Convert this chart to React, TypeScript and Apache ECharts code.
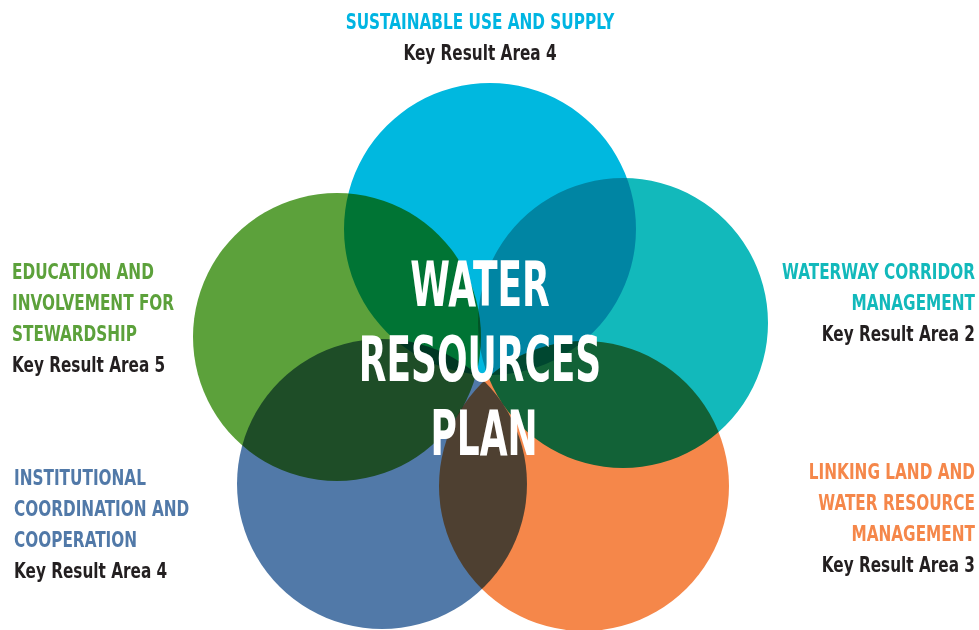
import React, { useEffect, useRef } from "react";
import * as echarts from "echarts";

const FONT = '"Liberation Sans Narrow", "DejaVu Sans Condensed", "Arial Narrow", sans-serif';

// circles: name, colour, center, radius
const circleNames = ["top", "left", "right", "bottomLeft", "bottomRight"];
const circleColors = ["#00B8DF", "#5CA13B", "#12B9BB", "#5179A8", "#F5874A"];
const circleCx = [490, 337, 623, 382, 584];
const circleCy = [229, 337, 323, 484, 486];
const circleR = [146, 144, 145, 145, 145];

// labels
const titleLines = [
  ["SUSTAINABLE USE AND SUPPLY"],
  ["EDUCATION AND", "INVOLVEMENT FOR", "STEWARDSHIP"],
  ["WATERWAY CORRIDOR", "MANAGEMENT"],
  ["INSTITUTIONAL", "COORDINATION AND", "COOPERATION"],
  ["LINKING LAND AND", "WATER RESOURCE", "MANAGEMENT"],
];
const areaLabels = [
  "Key Result Area 4",
  "Key Result Area 5",
  "Key Result Area 2",
  "Key Result Area 4",
  "Key Result Area 3",
];
const titleColors = ["#00B5E2", "#5CA13B", "#12B9BB", "#5179A8", "#F5874A"];
const centerLines = ["WATER", "RESOURCES", "PLAN"];

// label layout
const labelX = [480, 12, 975, 14, 975];
const labelTopY = [22, 272, 272, 478, 472];
const labelAlign = ["center", "left", "right", "left", "right"];

function txt(t: string, x: number, y: number, fill: string, size: number, align: string, sx: number, z: number) {
  return {
    type: "text",
    z,
    x,
    y,
    scaleX: sx,
    style: {
      text: t,
      x: 0,
      y: 0,
      fill,
      font: `bold ${size}px ${FONT}`,
      textAlign: align,
      textVerticalAlign: "middle",
    },
  };
}

export default function App() {
  const ref = useRef<HTMLDivElement>(null);
  useEffect(() => {
    if (!ref.current) return;
    const chart = echarts.init(ref.current, undefined, { renderer: "svg" });
    const elements: any[] = [];
    circleNames.forEach((n, i) => {
      elements.push({
        type: "circle",
        id: "c_" + n,
        shape: { cx: circleCx[i], cy: circleCy[i], r: circleR[i] },
        style: { fill: circleColors[i], blend: "multiply" },
        z: 1,
      });
    });
    const LH = 31;
    const SX = 0.81;
    titleLines.forEach((lines, i) => {
      lines.forEach((t, j) => {
        elements.push(txt(t, labelX[i], labelTopY[i] + j * LH, titleColors[i], 21, labelAlign[i], SX, 5));
      });
      elements.push(
        txt(areaLabels[i], labelX[i], labelTopY[i] + lines.length * LH, "#231F20", 21, labelAlign[i], SX, 5)
      );
    });
    const centerY = [285, 360, 434];
    const centerX = [480, 480, 484];
    centerLines.forEach((t, j) => {
      elements.push(txt(t, centerX[j], centerY[j], "#FFFFFF", 62, "center", 0.645, 10));
    });
    chart.setOption({ animation: false, graphic: { elements } });
    ref.current.querySelectorAll("circle, path").forEach((el: any) => {
      el.style.mixBlendMode = "multiply";
    });
    return () => chart.dispose();
  }, []);
  return (
    <div
      ref={ref}
      style={{ position: "fixed", left: 0, top: 0, width: 979, height: 630, background: "#fff" }}
    />
  );
}
